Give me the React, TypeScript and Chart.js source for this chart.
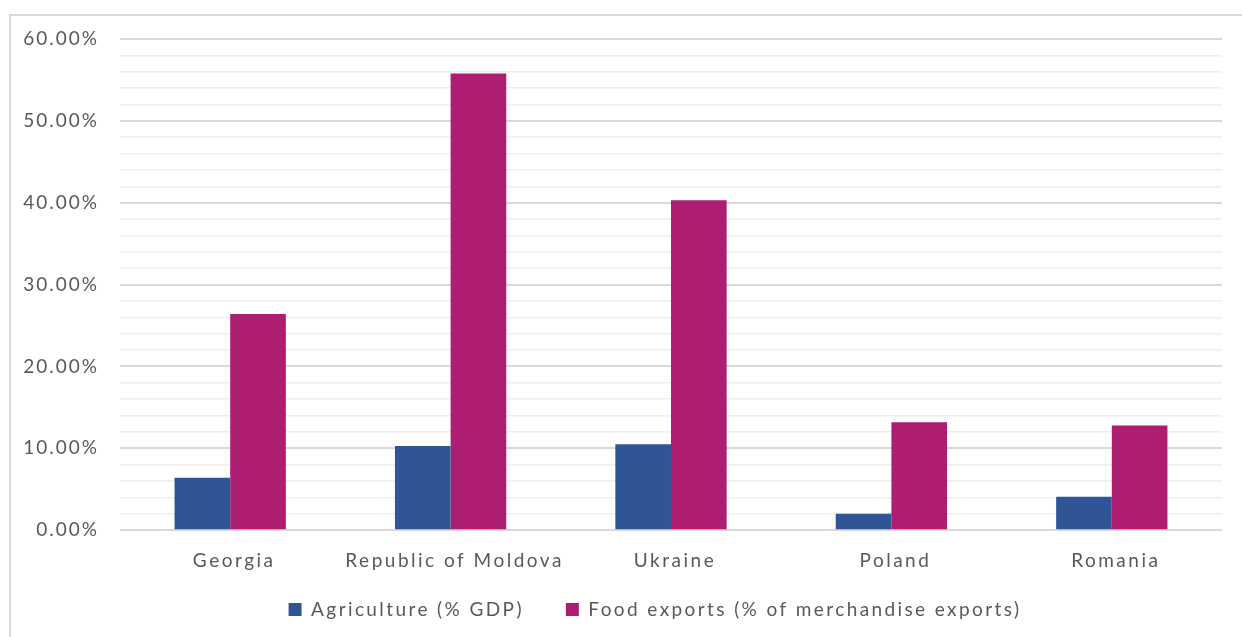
import { useEffect, useRef } from 'react';
import { Chart, registerables } from 'chart.js';

Chart.register(...registerables);

const categories = ['Georgia', 'Republic of Moldova', 'Ukraine', 'Poland', 'Romania'];
const agricultureGdp = [6.4, 10.3, 10.5, 2.0, 4.1];
const foodExportsShare = [26.4, 55.8, 40.3, 13.2, 12.8];
const seriesLabels = ['Agriculture (% GDP)', 'Food exports (% of merchandise exports)'];
const yMin = 0;
const yMax = 60;
const yStep = 2;
const yMajorStep = 10;

const TEXT = '#595959';
const FONT = 'Lato';

function withSpacing(obj: any, method: string, spacing: string, dx = 0, dy = 0) {
  if (!obj || !obj[method] || obj['__ls_' + method]) return;
  const orig = obj[method].bind(obj);
  obj[method] = (...args: any[]) => {
    const ctx = obj.ctx;
    ctx.save();
    ctx.letterSpacing = spacing;
    if (dx || dy) ctx.translate(dx, dy);
    const r = orig(...args);
    ctx.restore();
    return r;
  };
  obj['__ls_' + method] = true;
}

const spacingPlugin = {
  id: 'letterSpacingPatch',
  beforeLayout(chart: any) {
    withSpacing(chart.scales.x, 'drawLabels', '2.5px', 4, 0);
    withSpacing(chart.scales.y, 'drawLabels', '2px');
    withSpacing(chart.legend, 'fit', '2.4px');
    withSpacing(chart.legend, 'draw', '2.4px', 0, -33);
  },
};

export default function App() {
  const ref = useRef<HTMLCanvasElement | null>(null);

  useEffect(() => {
    if (!ref.current) return;
    const chart = new Chart(ref.current, {
      type: 'bar',
      data: {
        labels: categories,
        datasets: [
          {
            label: seriesLabels[0],
            data: agricultureGdp,
            backgroundColor: '#2f5597',
            borderWidth: 0,
            yAxisID: 'y',
          },
          {
            label: seriesLabels[1],
            data: foodExportsShare,
            backgroundColor: '#ad1d71',
            borderWidth: 0,
            yAxisID: 'y',
          },
        ],
      },
      options: {
        responsive: false,
        animation: false,
        events: [],
        layout: { padding: { top: 23, left: 0, right: 0, bottom: 0 } },
        datasets: { bar: { categoryPercentage: 0.505, barPercentage: 1 } },
        plugins: {
          tooltip: { enabled: false },
          legend: {
            position: 'bottom',
            labels: {
              boxWidth: 13,
              boxHeight: 13,
              padding: 42,
              color: TEXT,
              font: { family: FONT, size: 19 },
            },
          },
        },
        scales: {
          x: {
            grid: { display: false, drawTicks: false },
            border: { display: false },
            ticks: { color: TEXT, padding: 19, font: { family: FONT, size: 19 } },
          },
          y: {
            min: yMin,
            max: yMax,
            border: { display: false },
            grid: {
              drawTicks: false,
              color: (c: any) => (c.tick && c.tick.value % yMajorStep === 0 ? '#d9d9d9' : '#eeeeee'),
              lineWidth: (c: any) => (c.tick && c.tick.value % yMajorStep === 0 ? 2 : 1.5),
            },
            ticks: {
              stepSize: yStep,
              autoSkip: false,
              padding: 21,
              color: TEXT,
              font: { family: FONT, size: 19 },
              callback: (v: any) => (Number(v) % yMajorStep === 0 ? Number(v).toFixed(2) + '%' : ''),
            },
            afterFit: (s: any) => {
              s.width = 109;
              s.paddingTop = 0;
              s.paddingBottom = 0;
            },
          },
          yRight: {
            position: 'right',
            display: true,
            grid: { display: false, drawTicks: false },
            border: { display: false },
            ticks: { display: false },
            afterFit: (s: any) => {
              s.width = 77;
            },
          },
        },
      },
      plugins: [spacingPlugin],
    });
    return () => chart.destroy();
  }, []);

  return (
    <div style={{ position: 'fixed', left: 0, top: 0, right: 0, bottom: 0, overflow: 'hidden', background: '#fff' }}>
      <div
        style={{
          position: 'absolute',
          left: 9,
          top: 14,
          width: 1400,
          height: 800,
          borderLeft: '2px solid #d9d9d9',
          borderTop: '2px solid #d9d9d9',
          background: '#fff',
        }}
      >
        <canvas ref={ref} width={1288} height={646} style={{ display: 'block' }} />
      </div>
    </div>
  );
}
